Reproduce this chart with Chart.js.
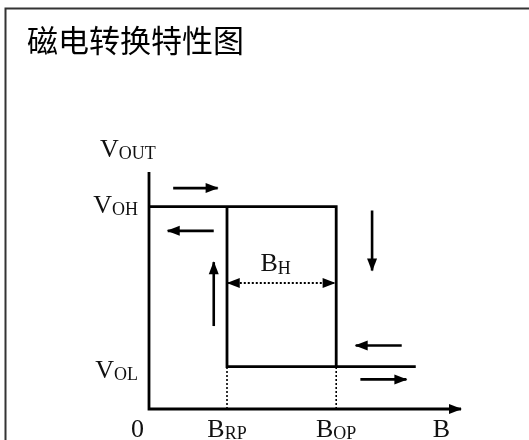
<!DOCTYPE html>
<html><head><meta charset="utf-8">
<script src="https://cdn.jsdelivr.net/npm/chart.js@4/dist/chart.umd.min.js"></script>
<style>html,body{margin:0;padding:0;background:#fff;}canvas{display:block;}</style>
</head><body>
<canvas id="c" width="529" height="440"></canvas>
<script>
// ---- data (arbitrary units) ----
const chartTitle = '磁电转换特性图';
const B_RP = 1.0, B_OP = 2.4, B_END = 3.42, B_MAX = 4.0;
const V_OL = 1.0, V_OH = 4.78, V_MAX = 5.6;
const xTickValues = [B_RP, B_OP];
const xTickLabels = [['B','RP'], ['B','OP']];
const yTickValues = [V_OL, V_OH];
const yTickLabels = [['V','OL'], ['V','OH']];
const originLabel = '0';
const xAxisTitle = ['B',''];
const yAxisTitle = ['V','OUT'];
const hystLabel = ['B','H'];
const hystLevel = 2.98;
// transfer characteristic
const upperPath = [[0, V_OH], [B_OP, V_OH], [B_OP, V_OL], [B_END, V_OL]];
const lowerPath = [[B_RP, V_OH], [B_RP, V_OL], [B_OP, V_OL]];
// direction arrows: tail -> head
const dirArrows = [
  [[0.31, 5.22], [0.88, 5.22]],
  [[0.83, 4.21], [0.24, 4.21]],
  [[0.83, 1.96], [0.83, 3.47]],
  [[2.86, 4.69], [2.86, 3.27]],
  [[3.24, 1.50], [2.65, 1.50]],
  [[2.71, 0.70], [3.30, 0.70]]
];

const pts = a => a.map(p => ({x: p[0], y: p[1]}));
const base = {showLine: true, pointRadius: 0, borderColor: '#000', fill: false, clip: false, tension: 0, borderJoinStyle: 'miter'};
const datasets = [
  Object.assign({}, base, {data: pts([[0, V_MAX], [0, 0], [B_MAX, 0]]), borderWidth: 2.8, arrow: 'end'}),
  Object.assign({}, base, {data: pts(upperPath), borderWidth: 2.8}),
  Object.assign({}, base, {data: pts(lowerPath), borderWidth: 2.8}),
  Object.assign({}, base, {data: pts([[B_RP, 0], [B_RP, V_OL]]), borderWidth: 1.6, borderDash: [2, 2]}),
  Object.assign({}, base, {data: pts([[B_OP, 0], [B_OP, V_OL]]), borderWidth: 1.6, borderDash: [2, 2]}),
  Object.assign({}, base, {data: pts([[B_RP + 0.01, hystLevel], [B_OP - 0.02, hystLevel]]), borderWidth: 2, borderDash: [2, 2], arrow: 'both'})
];
dirArrows.forEach(a => datasets.push(Object.assign({}, base, {data: pts(a), borderWidth: 2.6, arrow: 'end'})));

const SERIF = '"Liberation Serif","DejaVu Serif",serif';
function subText(ctx, parts, x, y, align, subDy) {
  ctx.font = '26px ' + SERIF;
  const w1 = ctx.measureText(parts[0]).width;
  ctx.font = '18px ' + SERIF;
  const w2 = parts[1] ? ctx.measureText(parts[1]).width : 0;
  const w = w1 + w2;
  let x0 = x;
  if (align === 'center') x0 = x - w / 2;
  else if (align === 'right') x0 = x - w;
  ctx.textAlign = 'left';
  ctx.textBaseline = 'alphabetic';
  ctx.fillStyle = '#111';
  ctx.font = '26px ' + SERIF;
  ctx.fillText(parts[0], x0, y);
  if (parts[1]) {
    ctx.font = '18px ' + SERIF;
    ctx.fillText(parts[1], x0 + w1, y + (subDy || 2));
  }
}
function head(ctx, x1, y1, x2, y2) {
  const ang = Math.atan2(y2 - y1, x2 - x1);
  const L = 12, H = 5;
  ctx.save();
  ctx.translate(x2, y2);
  ctx.rotate(ang);
  ctx.beginPath();
  ctx.moveTo(1, 0);
  ctx.lineTo(-L, -H);
  ctx.lineTo(-L, H);
  ctx.closePath();
  ctx.fillStyle = '#000';
  ctx.fill();
  ctx.restore();
}

const decor = {
  id: 'decor',
  beforeDraw(chart) {
    const ctx = chart.ctx;
    ctx.save();
    ctx.fillStyle = '#fff';
    ctx.fillRect(0, 0, chart.width, chart.height);
    ctx.strokeStyle = '#333';
    ctx.lineWidth = 2;
    ctx.beginPath();
    ctx.moveTo(5.5, chart.height + 2);
    ctx.lineTo(5.5, 8.5);
    ctx.lineTo(chart.width + 2, 8.5);
    ctx.stroke();
    ctx.fillStyle = '#000';
    ctx.font = '31px "Noto Sans CJK SC"';
    ctx.textAlign = 'left';
    ctx.textBaseline = 'middle';
    ctx.fillText(chartTitle, 27, 40);
    ctx.restore();
  },
  afterDatasetsDraw(chart) {
    const ctx = chart.ctx;
    const xs = chart.scales.x, ys = chart.scales.y;
    ctx.save();
    chart.data.datasets.forEach((ds, i) => {
      if (!ds.arrow) return;
      const d = chart.getDatasetMeta(i).data;
      const n = d.length;
      if (ds.arrow === 'end' || ds.arrow === 'both') head(ctx, d[n - 2].x, d[n - 2].y, d[n - 1].x, d[n - 1].y);
      if (ds.arrow === 'start' || ds.arrow === 'both') head(ctx, d[1].x, d[1].y, d[0].x, d[0].y);
    });
    const x0 = xs.getPixelForValue(0), y0 = ys.getPixelForValue(0);
    // x ticks
    xTickValues.forEach((v, i) => subText(ctx, xTickLabels[i], xs.getPixelForValue(v), y0 + 28, 'center', 2));
    subText(ctx, [originLabel, ''], x0 - 5, y0 + 28, 'right');
    subText(ctx, xAxisTitle, xs.getPixelForValue(B_MAX) - 11, y0 + 28, 'right');
    // y ticks
    const dys = [11, 6.5];
    yTickValues.forEach((v, i) => subText(ctx, yTickLabels[i], x0 - 11, ys.getPixelForValue(v) + dys[i], 'right', 2));
    subText(ctx, yAxisTitle, x0 - 49, ys.getPixelForValue(V_MAX) - 15, 'left', 2);
    // hysteresis label
    subText(ctx, hystLabel, (xs.getPixelForValue(B_RP) + xs.getPixelForValue(B_OP)) / 2 - 6, ys.getPixelForValue(hystLevel) - 12, 'center', 3);
    ctx.restore();
  }
};

new Chart(document.getElementById('c'), {
  type: 'scatter',
  data: {datasets},
  options: {
    responsive: false,
    animation: false,
    devicePixelRatio: 1,
    events: [],
    layout: {padding: {left: 149, right: 68, top: 172, bottom: 31}},
    scales: {
      x: {type: 'linear', min: 0, max: B_MAX, display: false},
      y: {type: 'linear', min: 0, max: V_MAX, display: false}
    },
    plugins: {legend: {display: false}, tooltip: {enabled: false}, title: {display: false}}
  },
  plugins: [decor]
});
</script>
</body></html>
